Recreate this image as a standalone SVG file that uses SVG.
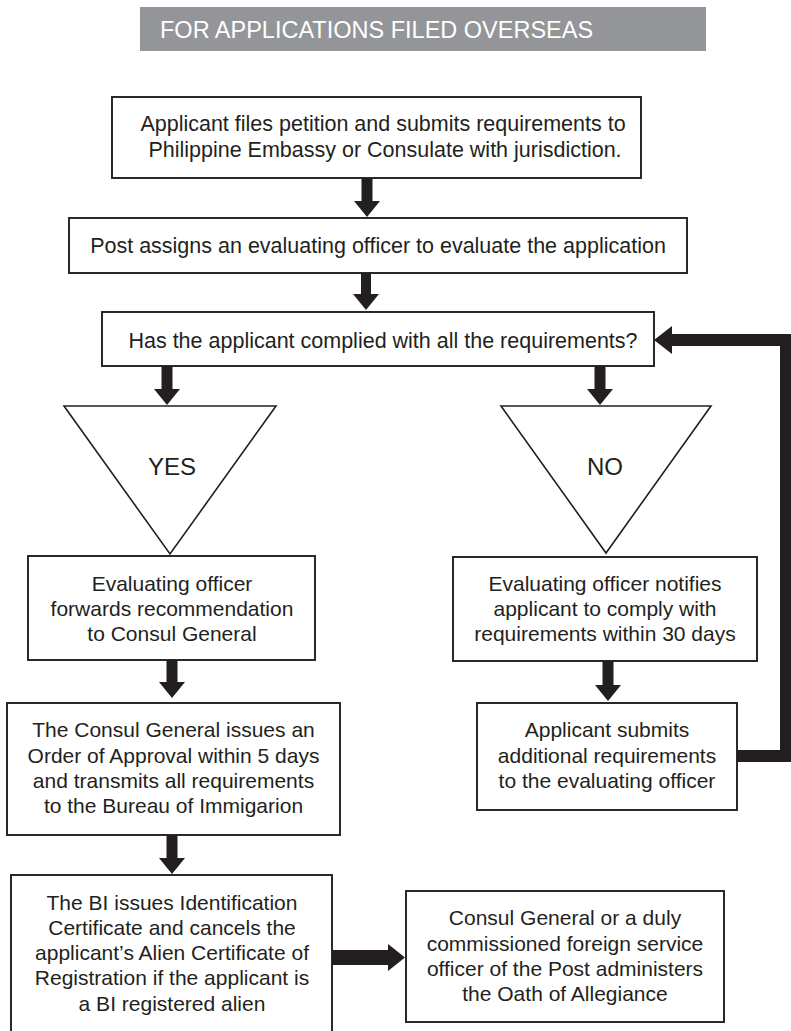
<svg xmlns="http://www.w3.org/2000/svg" width="791" height="1031" viewBox="0 0 791 1031">
<style>
.box{fill:#fff;stroke:#231f20;stroke-width:1.9}
.tri{fill:#fff;stroke:#231f20;stroke-width:1.6;stroke-linejoin:miter}
.t{font-family:"Liberation Sans",Arial,sans-serif;font-size:21.5px;fill:#231f20;text-anchor:middle}
.s{font-size:21px}
.lbl{font-family:"Liberation Sans",Arial,sans-serif;font-size:24px;fill:#231f20;text-anchor:middle}
.arr{fill:#231f20}
.fb{fill:none;stroke:#231f20;stroke-width:12;stroke-linejoin:miter}
.hdr{font-family:"Liberation Sans",Arial,sans-serif;font-size:23.5px;fill:#fff}
</style>
<rect width="791" height="1031" fill="#fff"/>
<g id="header">
<rect x="140" y="7" width="566" height="44" fill="#939598"/>
<text class="hdr" x="160" y="37.5">FOR APPLICATIONS FILED OVERSEAS</text>
</g>
<g id="connectors">
<path class="arr" d="M361.5 178V201H354L367 217L380 201H372.5V178Z"/>
<path class="arr" d="M361 273V294H353L366 310L379 294H371V273Z"/>
<path class="arr" d="M161.5 366V389H154L167 405L180 389H172.5V366Z"/>
<path class="arr" d="M594.5 366V389H587L600 405L613 389H605.5V366Z"/>
<path class="arr" d="M166.5 660V682H159L172 698L185 682H177.5V660Z"/>
<path class="arr" d="M602.5 661V685H595L608 701L621 685H613.5V661Z"/>
<path class="arr" d="M166.5 835V858H159L172 874L185 858H177.5V835Z"/>
<path class="arr" d="M332 950H388V944L405 957.5L388 971V965H332Z"/>
<path class="fb" d="M737 756H786V340H668"/>
<path class="arr" d="M654 340L672 326V354Z"/>
</g>
<g id="n1">
<rect class="box" x="112" y="97" width="529" height="81"/>
<text class="t" x="383" y="131">Applicant files petition and submits requirements to</text>
<text class="t" x="385" y="157">Philippine Embassy or Consulate with jurisdiction.</text>
</g>
<g id="n2">
<rect class="box" x="69" y="218" width="618" height="55"/>
<text class="t" x="378" y="252.5">Post assigns an evaluating officer to evaluate the application</text>
</g>
<g id="n3">
<rect class="box" x="102" y="312" width="552" height="54"/>
<text class="t" x="383" y="347.5">Has the applicant complied with all the requirements?</text>
</g>
<g id="yes">
<path class="tri" d="M64 406H276L170 554Z"/>
<text class="lbl" x="172" y="475">YES</text>
</g>
<g id="no">
<path class="tri" d="M501 406H711L606 553Z"/>
<text class="lbl" x="605" y="475">NO</text>
</g>
<g id="n4">
<rect class="box" x="28" y="556" width="287" height="104"/>
<text class="t s" x="172" y="591">Evaluating officer</text>
<text class="t s" x="172" y="616">forwards recommendation</text>
<text class="t s" x="172" y="641">to Consul General</text>
</g>
<g id="n5">
<rect class="box" x="453" y="557" width="304" height="104"/>
<text class="t s" x="605" y="591">Evaluating officer notifies</text>
<text class="t s" x="605" y="616">applicant to comply with</text>
<text class="t s" x="605" y="641">requirements within 30 days</text>
</g>
<g id="n6">
<rect class="box" x="7" y="703" width="333" height="132"/>
<text class="t s" x="173.5" y="737">The Consul General issues an</text>
<text class="t s" x="173.5" y="763">Order of Approval within 5 days</text>
<text class="t s" x="173.5" y="788">and transmits all requirements</text>
<text class="t s" x="173.5" y="813">to the Bureau of Immigarion</text>
</g>
<g id="n7">
<rect class="box" x="477" y="703" width="260" height="107"/>
<text class="t s" x="607" y="737">Applicant submits</text>
<text class="t s" x="607" y="763">additional requirements</text>
<text class="t s" x="607" y="788">to the evaluating officer</text>
</g>
<g id="n8">
<rect class="box" x="11" y="875" width="321" height="170"/>
<text class="t s" x="172" y="910">The BI issues Identification</text>
<text class="t s" x="172" y="935">Certificate and cancels the</text>
<text class="t s" x="172" y="960">applicant’s Alien Certificate of</text>
<text class="t s" x="172" y="985">Registration if the applicant is</text>
<text class="t s" x="172" y="1011">a BI registered alien</text>
</g>
<g id="n9">
<rect class="box" x="406" y="891" width="318" height="131"/>
<text class="t s" x="565" y="925">Consul General or a duly</text>
<text class="t s" x="565" y="951">commissioned foreign service</text>
<text class="t s" x="565" y="976">officer of the Post administers</text>
<text class="t s" x="565" y="1001">the Oath of Allegiance</text>
</g>
</svg>
